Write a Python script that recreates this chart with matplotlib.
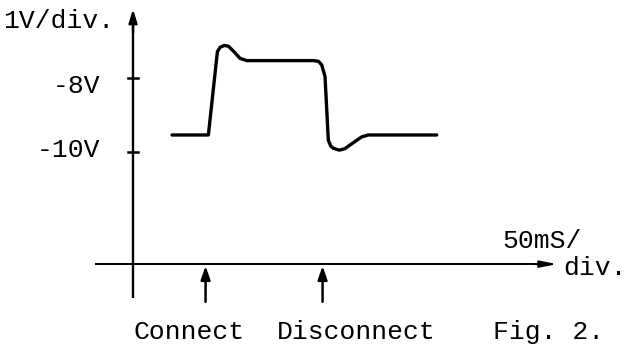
import matplotlib
matplotlib.use("Agg")
import matplotlib.pyplot as plt

# ---- data (time in ms, voltage in V) ----
trace_t = [33.3, 64.4, 72.1, 74.4, 78.0, 81.5, 86.0, 91.5, 97.2, 154.1, 158.5,
           161.3, 164.1, 166.9, 169.0, 171.2, 176.3, 181.0, 185.5, 195.5, 201.1, 259.6]
trace_v = [-9.54, -9.54, -7.29, -7.17, -7.12, -7.14, -7.28, -7.47, -7.53, -7.53, -7.55,
           -7.65, -7.96, -9.68, -9.84, -9.90, -9.95, -9.91, -9.81, -9.59, -9.54, -9.54]

ytick_values = [-8, -10]
ytick_labels = ["-8V", "-10V"]
event_times = [62.0, 162.0]
event_labels = ["Connect", "Disconnect"]
y_unit_label = "1V/div."
x_unit_label = ["50mS/", "div."]
fig_label = "Fig. 2."

# ---- figure ----
W, H = 629, 349
fig = plt.figure(figsize=(W / 100, H / 100), dpi=100)
ax = fig.add_axes([0, 0, 1, 1])
ax.set_axis_off()
ax.set_xlim(-113.7, 423.9)
ax.set_ylim(-15.324, -5.892)

FONT = "Liberation Mono"
FS = 19

# axes lines
x_axis_v = -13.03
ax.plot([0, 0], [-13.95, -6.6], color="black", lw=1.7, solid_capstyle="butt")
ax.annotate("", xy=(0, -6.14), xytext=(0, -6.8),
            arrowprops=dict(arrowstyle="-|>,head_length=0.8,head_width=0.25",
                            color="black", lw=1.7, shrinkA=0, shrinkB=0))
ax.plot([-32.5, 345], [x_axis_v, x_axis_v], color="black", lw=1.4, solid_capstyle="butt")
ax.annotate("", xy=(362.4, x_axis_v), xytext=(342, x_axis_v),
            arrowprops=dict(arrowstyle="-|>,head_length=1.0,head_width=0.2",
                            color="black", lw=1.4, shrinkA=0, shrinkB=0))

# y ticks and labels
label_baselines = [-8.405, -10.135]
for v, lab, b in zip(ytick_values, ytick_labels, label_baselines):
    ax.plot([-4.3, 4.3], [v, v], color="black", lw=1.8)
    ax.text(-28.2, b, lab, family=FONT, fontsize=FS, ha="right", va="baseline")

ax.text(-16.2, -6.65, y_unit_label, family=FONT, fontsize=FS, ha="right", va="baseline")

# event arrows
for t in event_times:
    ax.annotate("", xy=(t, -13.08), xytext=(t, -14.05),
                arrowprops=dict(arrowstyle="-|>,head_length=0.8,head_width=0.28",
                                color="black", lw=1.8, shrinkA=0, shrinkB=0))

# signal trace
ax.plot(trace_t, trace_v, color="black", lw=2.4, solid_joinstyle="round",
        solid_capstyle="round")

# texts
ax.text(315.4, -12.59, x_unit_label[0], family=FONT, fontsize=FS, ha="left", va="baseline")
ax.text(367.5, -13.32, x_unit_label[1], family=FONT, fontsize=FS, ha="left", va="baseline")
ax.text(0, -15.05, event_labels[0], family=FONT, fontsize=FS, ha="left", va="baseline")
ax.text(123.1, -15.05, event_labels[1], family=FONT, fontsize=FS, ha="left", va="baseline")
ax.text(307.7, -15.05, fig_label, family=FONT, fontsize=FS, ha="left", va="baseline")

fig.savefig("out.png", dpi=100)
